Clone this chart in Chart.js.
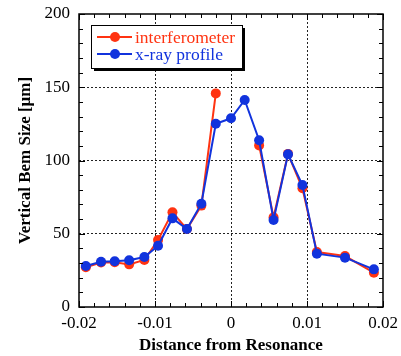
<!DOCTYPE html>
<html>
<head>
<meta charset="utf-8">
<script src="https://cdn.jsdelivr.net/npm/chart.js@4/dist/chart.umd.min.js"></script>
<style>
html,body{margin:0;padding:0;background:#fff;}
#wrap{position:relative;width:401px;height:356px;}
</style>
</head>
<body>
<div id="wrap"><canvas id="c" width="401" height="356"></canvas></div>
<script>
const distances = [-0.0191,-0.0171,-0.0153,-0.0134,-0.0114,-0.0096,-0.0077,-0.0058,-0.0039,-0.0020,0.0000,0.0018,0.0037,0.0056,0.0075,0.0094,0.0113,0.0150,0.0188];
const interferometer = [27.1,30.4,30.6,29.1,32.1,45.7,64.6,53.2,69.2,145.8,null,null,110.3,61.2,104.5,81.0,37.5,34.8,23.4];
const xrayProfile = [28.0,30.9,31.2,31.9,34.1,41.8,60.5,53.2,70.5,125.1,128.8,141.3,113.8,59.4,104.2,83.3,36.4,33.7,25.7];
const seriesNames = ['interferometer','x-ray profile'];
const xTickLabels = ['-0.02','-0.01','0','0.01','0.02'];
const yTickLabels = ['0','50','100','150','200'];

const RED = '#ff3311';
const BLUE = '#1133dd';
const SERIF = '"Liberation Serif","Times New Roman",serif';

function pts(ys){ return distances.map((x,i)=>({x:x,y:ys[i]})); }
function isMajor(v, step){ const r=v/step; return Math.abs(r-Math.round(r))<1e-6; }

const framePlugin = {
  id:'frame',
  afterDatasetsDraw(chart){
    const ctx=chart.ctx, a=chart.chartArea;
    const xs=chart.scales.x, ys=chart.scales.y;
    ctx.save();
    ctx.strokeStyle='#000';
    ctx.lineWidth=1;
    ctx.beginPath();
    xs.ticks.forEach(t=>{
      const p=Math.round(xs.getPixelForValue(t.value))+0.5;
      const L=isMajor(t.value,0.01)?6:4;
      ctx.moveTo(p,a.bottom); ctx.lineTo(p,a.bottom-L);
      ctx.moveTo(p,a.top); ctx.lineTo(p,a.top+L);
    });
    ys.ticks.forEach(t=>{
      const p=Math.round(ys.getPixelForValue(t.value))+0.5;
      const L=isMajor(t.value,50)?6:4;
      ctx.moveTo(a.left,p); ctx.lineTo(a.left+L,p);
      ctx.moveTo(a.right,p); ctx.lineTo(a.right-L,p);
    });
    ctx.stroke();
    ctx.lineWidth=1.5;
    ctx.strokeRect(a.left,a.top,a.right-a.left,a.bottom-a.top);
    ctx.restore();
  },
  afterDraw(chart){
    const ctx=chart.ctx, a=chart.chartArea;
    const bx=a.left+12, by=a.top+11, bw=151, bh=43;
    ctx.save();
    ctx.fillStyle='#000';
    ctx.fillRect(bx+3,by+3,bw,bh);
    ctx.fillStyle='#fff';
    ctx.fillRect(bx,by,bw,bh);
    ctx.strokeStyle='#000'; ctx.lineWidth=1;
    ctx.strokeRect(bx+0.5,by+0.5,bw,bh);
    const rows=[{c:RED,t:seriesNames[0],y:by+12},{c:BLUE,t:seriesNames[1],y:by+29}];
    rows.forEach(r=>{
      ctx.strokeStyle=r.c; ctx.lineWidth=2;
      ctx.beginPath(); ctx.moveTo(bx+6,r.y); ctx.lineTo(bx+41,r.y); ctx.stroke();
      ctx.fillStyle=r.c;
      ctx.beginPath(); ctx.arc(bx+24,r.y,5,0,Math.PI*2); ctx.fill();
      ctx.font='17.5px '+SERIF;
      ctx.textBaseline='middle'; ctx.textAlign='left';
      ctx.fillText(r.t,bx+44,r.y+1);
    });
    ctx.restore();
  }
};

new Chart(document.getElementById('c'),{
  type:'scatter',
  data:{datasets:[
    {label:seriesNames[0],data:pts(interferometer),borderColor:RED,backgroundColor:RED,showLine:true,borderWidth:2,pointRadius:5,pointHoverRadius:5,pointBorderWidth:0,order:1,spanGaps:false},
    {label:seriesNames[1],data:pts(xrayProfile),borderColor:BLUE,backgroundColor:BLUE,showLine:true,borderWidth:2,pointRadius:5,pointHoverRadius:5,pointBorderWidth:0,order:0}
  ]},
  options:{
    responsive:false,animation:false,
    layout:{padding:{top:14,right:18,left:0,bottom:0}},
    plugins:{legend:{display:false},tooltip:{enabled:false}},
    scales:{
      x:{type:'linear',min:-0.02,max:0.02,
        afterFit(s){s.height=49;s.paddingLeft=0;s.paddingRight=0;},
        afterBuildTicks(s){const t=[];for(let i=-10;i<=10;i++)t.push({value:i*0.002});s.ticks=t;},
        ticks:{autoSkip:false,maxRotation:0,padding:6,color:'#000',font:{family:SERIF,size:17},
          callback(v){ if(!isMajor(v,0.01)) return ''; const i=Math.round(v/0.01)+2; return xTickLabels[i]; }},
        grid:{drawTicks:false,lineWidth:1,
          color(c){ const v=c.tick?c.tick.value:0; return (isMajor(v,0.01)&&Math.abs(v)<0.019)?'#222':'rgba(0,0,0,0)'; }},
        border:{display:false,dash:[2,2]},
        title:{display:true,text:'Distance from Resonance',color:'#000',font:{family:SERIF,size:17,weight:'bold'},padding:{top:0,bottom:0}}
      },
      y:{type:'linear',min:0,max:200,
        afterFit(s){s.width=79;s.paddingTop=0;s.paddingBottom=0;},
        afterBuildTicks(s){const t=[];for(let i=0;i<=20;i++)t.push({value:i*10});s.ticks=t;},
        ticks:{autoSkip:false,padding:9,color:'#000',font:{family:SERIF,size:17},
          callback(v){ if(!isMajor(v,50)) return ''; return yTickLabels[Math.round(v/50)]; }},
        grid:{drawTicks:false,lineWidth:1,
          color(c){ const v=c.tick?c.tick.value:0; return (isMajor(v,50)&&v>0&&v<200)?'#222':'rgba(0,0,0,0)'; }},
        border:{display:false,dash:[2,2]},
        title:{display:true,text:'Vertical Bem Size [μm]',color:'#000',font:{family:SERIF,size:17,weight:'bold'},padding:{top:15,bottom:0}}
      }
    }
  },
  plugins:[framePlugin]
});
</script>
</body>
</html>
